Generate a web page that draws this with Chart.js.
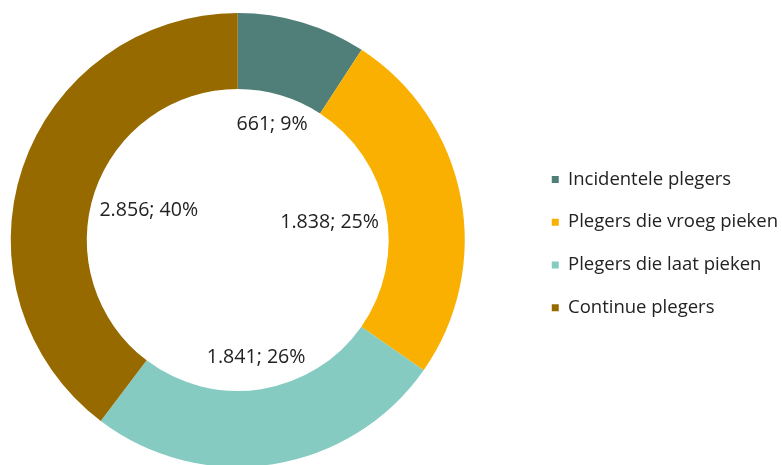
<!DOCTYPE html>
<html>
<head>
<meta charset="utf-8">
<script src="https://cdn.jsdelivr.net/npm/chart.js@4.4.0/dist/chart.umd.min.js"></script>
<style>
  html, body { margin: 0; padding: 0; background: #fff; overflow: hidden; }
  body { width: 782px; height: 465px; position: relative; }
  /* canvas a bit wider than the page so doughnut and legend land where the original has them */
  #wrap { position: absolute; left: -52px; top: 0; width: 840px; height: 467px; }
</style>
</head>
<body>
<div id="wrap"><canvas id="chart"></canvas></div>
<script>
const categories = ['Incidentele plegers', 'Plegers die vroeg pieken', 'Plegers die laat pieken', 'Continue plegers'];
const values = [661, 1838, 1841, 2856];
const percentLabels = ['9%', '25%', '26%', '40%'];
const colors = ['#4f7f78', '#f9b000', '#85cbc1', '#976a00'];

// 1838 -> "1.838"
const fmt = (v) => String(v).replace(/\B(?=(\d{3})+(?!\d))/g, '.');

// labels inside the hole, pushed against the inner edge of each slice
const innerLabels = {
  id: 'innerLabels',
  afterDatasetsDraw(chart) {
    const ctx = chart.ctx;
    const meta = chart.getDatasetMeta(0);
    ctx.save();
    ctx.font = '19.6px "Open Sans"';
    ctx.fillStyle = '#222';
    ctx.textAlign = 'center';
    ctx.textBaseline = 'middle';
    meta.data.forEach((arc, i) => {
      const { x, y, startAngle, endAngle, innerRadius } = arc.getProps(['x', 'y', 'startAngle', 'endAngle', 'innerRadius']);
      const mid = (startAngle + endAngle) / 2;
      const dx = Math.cos(mid), dy = Math.sin(mid);
      const text = fmt(values[i]) + '; ' + percentLabels[i];
      const a = Math.sign(dx) * ctx.measureText(text).width / 2;
      const b = Math.sign(dy) * 10;
      const R = innerRadius - 7;
      const p = dx * a + dy * b;
      const d = -p + Math.sqrt(p * p - (a * a + b * b - R * R));
      ctx.fillText(text, x + dx * d, y + dy * d);
    });
    ctx.restore();
  }
};

new Chart(document.getElementById('chart'), {
  type: 'doughnut',
  data: {
    labels: categories,
    datasets: [{
      data: values,
      backgroundColor: colors,
      borderWidth: 0
    }]
  },
  options: {
    responsive: true,
    maintainAspectRatio: false,
    animation: false,
    cutout: '66.5%',
    layout: { padding: { top: 13 } },
    plugins: {
      tooltip: { enabled: false },
      legend: {
        position: 'right',
        title: { display: true, text: ' ', padding: 0, font: { size: 6 } },
        labels: {
          boxWidth: 7,
          boxHeight: 7,
          padding: 24.3,
          color: '#222',
          font: { family: '"Open Sans"', size: 18.5 }
        }
      }
    },
    events: []
  },
  plugins: [innerLabels]
});
</script>
</body>
</html>
